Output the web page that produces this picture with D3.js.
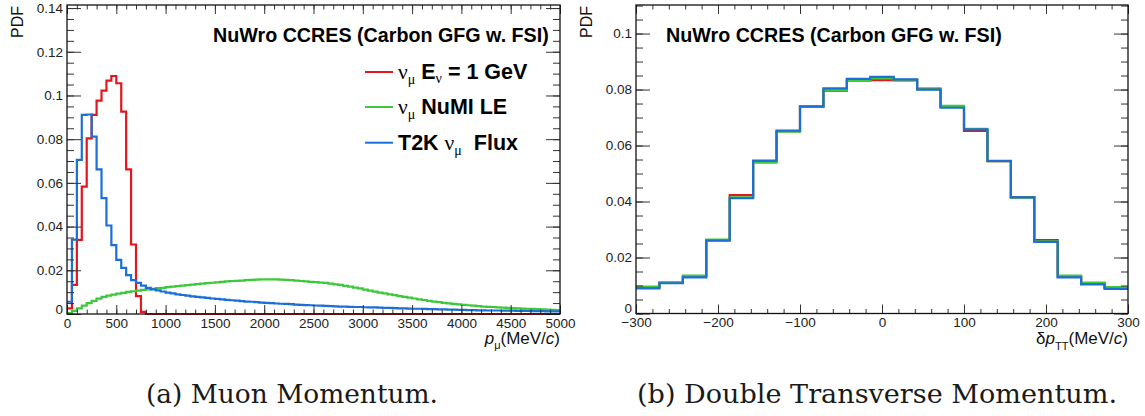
<!DOCTYPE html>
<html><head><meta charset="utf-8">
<script src="https://cdn.jsdelivr.net/npm/d3@7"></script>
<style>body{margin:0;background:#fff} svg{display:block}</style>
</head><body><svg id="c" width="1145" height="416"></svg>
<script>
// ---------- DATA ----------
// muon momentum histogram: 100 bins of 50 MeV/c from 0 to 5000
const pmuRed = [0.0026,0.0133,0.0339,0.0583,0.0804,0.0911,0.0976,0.1022,0.1068,0.1089,
  0.1056,0.0926,0.0662,0.0318,0.0082,0.0010,0,0,0,0, 0,0,0,0,0,0,0,0,0,0,
  0,0,0,0,0,0,0,0,0,0, 0,0,0,0,0,0,0,0,0,0, 0,0,0,0,0,0,0,0,0,0,
  0,0,0,0,0,0,0,0,0,0, 0,0,0,0,0,0,0,0,0,0, 0,0,0,0,0,0,0,0,0,0,
  0,0,0,0,0,0,0,0,0,0];
const pmuGreen = [0.0004,0.0014,0.0026,0.0038,0.0050,0.0060,0.0070,0.0078,0.0084,0.0089,
  0.0093,0.0097,0.0101,0.0104,0.0107,0.0110,0.0113,0.0115,0.0118,0.0120,
  0.0123,0.0125,0.0128,0.0130,0.0132,0.0134,0.0137,0.0139,0.0141,0.0143,
  0.0145,0.0147,0.0149,0.0151,0.0152,0.0153,0.0155,0.0156,0.0157,0.0158,
  0.0158,0.0158,0.0158,0.0157,0.0156,0.0155,0.0153,0.0151,0.0149,0.0147,
  0.0146,0.0144,0.0142,0.0139,0.0136,0.0133,0.0129,0.0125,0.0121,0.0117,
  0.0112,0.0107,0.0102,0.0098,0.0094,0.0090,0.0086,0.0082,0.0078,0.0075,
  0.0071,0.0067,0.0064,0.0060,0.0057,0.0054,0.0051,0.0049,0.0046,0.0044,
  0.0042,0.0040,0.0038,0.0036,0.0034,0.0033,0.0032,0.0030,0.0029,0.0028,
  0.0027,0.0026,0.0025,0.0024,0.0023,0.0022,0.0021,0.0020,0.0019,0.0018];
const pmuBlue = [0.0056,0.0340,0.0705,0.0911,0.0913,0.0812,0.0662,0.0530,0.0405,0.0315,
  0.0248,0.0211,0.0178,0.0155,0.0142,0.0130,0.0120,0.0113,0.0108,0.0103,
  0.0098,0.0094,0.0090,0.0087,0.0084,0.0081,0.0078,0.0076,0.0074,0.0071,
  0.0069,0.0067,0.0065,0.0063,0.0061,0.0059,0.0057,0.0056,0.0054,0.0052,
  0.0051,0.0050,0.0048,0.0047,0.0046,0.0045,0.0043,0.0042,0.0041,0.0040,
  0.0039,0.0038,0.0037,0.0036,0.0035,0.0034,0.0034,0.0033,0.0032,0.0032,
  0.0031,0.0030,0.0030,0.0029,0.0028,0.0028,0.0027,0.0026,0.0026,0.0025,
  0.0024,0.0024,0.0023,0.0022,0.0022,0.0021,0.0021,0.0020,0.0020,0.0019,
  0.0019,0.0018,0.0018,0.0017,0.0017,0.0016,0.0016,0.0016,0.0015,0.0015,
  0.0015,0.0014,0.0014,0.0014,0.0013,0.0013,0.0013,0.0012,0.0012,0.0012];

// double transverse momentum: 21 bins from -300 to 300
const dptRange = [-300, 300];
const dptRed   = [0.0093,0.0110,0.0133,0.0262,0.0423,0.0543,0.0651,0.0740,0.0796,0.0833,0.0834,0.0833,0.0803,0.0738,0.0652,0.0544,0.0416,0.0262,0.0131,0.0108,0.0092];
const dptGreen = [0.0096,0.0111,0.0135,0.0264,0.0415,0.0539,0.0650,0.0740,0.0799,0.0831,0.0840,0.0835,0.0801,0.0742,0.0660,0.0544,0.0414,0.0258,0.0135,0.0110,0.0094];
const dptBlue  = [0.0090,0.0108,0.0129,0.0260,0.0412,0.0546,0.0653,0.0739,0.0804,0.0838,0.0845,0.0836,0.0800,0.0735,0.0658,0.0545,0.0415,0.0256,0.0129,0.0104,0.0088];

// tick labels
const pmuTicks = [0,500,1000,1500,2000,2500,3000,3500,4000,4500,5000];
const pmuYTicks = [0,0.02,0.04,0.06,0.08,0.1,0.12,0.14];
const dptTicks = [-300,-200,-100,0,100,200,300];
const dptYTicks = [0,0.02,0.04,0.06,0.08,0.1];

const colors = {red:"#e3161d", green:"#3ec83b", blue:"#1b6fd6"};
const titleText = "NuWro CCRES (Carbon GFG w. FSI)";
const captions = ["(a) Muon Momentum.", "(b) Double Transverse Momentum."];

// ---------- DRAW ----------
const svg = d3.select("#c");
const SANS = "'Liberation Sans', Arial, Helvetica, sans-serif";
const GREEK = "'Liberation Serif', 'DejaVu Serif', serif";
const fmt = d => { const s = String(+(+d).toFixed(3)); return s.replace("-", "\u2212"); };

function panel(o) {
  const g = svg.append("g");
  const x = d3.scaleLinear().domain(o.xDom).range([o.X0, o.X1]);
  const y = d3.scaleLinear().domain(o.yDom).range([o.Y0, o.Y1]);
  const cid = "clip" + o.id;
  svg.append("clipPath").attr("id", cid).append("rect")
    .attr("x", o.X0).attr("y", o.Y1).attr("width", o.X1 - o.X0).attr("height", o.Y0 - o.Y1 + 1);
  const hg = g.append("g").attr("clip-path", `url(#${cid})`);
  o.series.forEach(s => {
    const n = s.vals.length, w = (o.xDom[1] - o.xDom[0]) / n;
    const pts = s.vals.map((v, i) => [o.xDom[0] + i * w, v]);
    pts.push([o.xDom[1], s.vals[n - 1]]);
    hg.append("path")
      .attr("d", d3.line().x(d => x(d[0])).y(d => y(d[1])).curve(d3.curveStepAfter)(pts))
      .attr("fill", "none").attr("stroke", s.color).attr("stroke-width", 2.2);
  });
  const styleAx = sel => {
    sel.select(".domain").remove();
    sel.selectAll("line").attr("stroke", "#333").attr("stroke-width", 1);
    sel.selectAll("text").attr("font-family", SANS).attr("font-size", 13.5).attr("fill", "#222");
  };
  const xMinor = d3.range(o.xDom[0], o.xDom[1] + 1e-9, o.xMinorStep);
  const yMinor = d3.range(0, o.yDom[1] + 1e-9, 0.005);
  g.append("g").attr("transform", `translate(0,${o.Y0})`)
    .call(d3.axisBottom(x).tickValues(o.xTicks).tickSize(-9).tickPadding(4).tickFormat(fmt)).call(styleAx);
  g.append("g").attr("transform", `translate(0,${o.Y0})`)
    .call(d3.axisBottom(x).tickValues(xMinor).tickSize(-4.5).tickFormat("")).call(styleAx);
  g.append("g").attr("transform", `translate(0,${o.Y1})`)
    .call(d3.axisTop(x).tickValues(o.xTicks).tickSize(-9).tickFormat("")).call(styleAx);
  g.append("g").attr("transform", `translate(0,${o.Y1})`)
    .call(d3.axisTop(x).tickValues(xMinor).tickSize(-4.5).tickFormat("")).call(styleAx);
  const yAx = g.append("g").attr("transform", `translate(${o.X0},0)`)
    .call(d3.axisLeft(y).tickValues(o.yTicks).tickSize(-14).tickPadding(4).tickFormat(fmt)).call(styleAx);
  // the "0" label sits just above the corner so it clears the x labels
  yAx.selectAll(".tick text").filter(d => d === 0).attr("dy", "-0.05em");
  g.append("g").attr("transform", `translate(${o.X0},0)`)
    .call(d3.axisLeft(y).tickValues(yMinor).tickSize(-7).tickFormat("")).call(styleAx);
  g.append("g").attr("transform", `translate(${o.X1},0)`)
    .call(d3.axisRight(y).tickValues(o.yTicks).tickSize(-14).tickFormat("")).call(styleAx);
  g.append("g").attr("transform", `translate(${o.X1},0)`)
    .call(d3.axisRight(y).tickValues(yMinor).tickSize(-7).tickFormat("")).call(styleAx);
  g.append("rect").attr("x", o.X0).attr("y", o.Y1).attr("width", o.X1 - o.X0).attr("height", o.Y0 - o.Y1)
    .attr("fill", "none").attr("stroke", "#111").attr("stroke-width", 1.3);
  g.append("text").attr("transform", `translate(${o.X0 - 44},${o.Y1 + 1}) rotate(-90)`)
    .attr("text-anchor", "end").attr("font-family", SANS).attr("font-size", 16).attr("fill", "#111").text("PDF");
  g.append("text").attr("x", o.titleX).attr("y", 41.5).attr("font-family", SANS).attr("font-weight", "bold")
    .attr("font-size", 19.7).attr("fill", "#000").text(titleText);
  const xt = g.append("text").attr("x", o.X1).attr("y", 344).attr("text-anchor", "end")
    .attr("font-family", SANS).attr("font-size", 17).attr("fill", "#111");
  o.xTitle(xt);
  return {g, x, y};
}

panel({id: "L", xDom: [0, 5000], yDom: [0, 0.1414], X0: 67, X1: 560, Y0: 314, Y1: 5,
  xTicks: pmuTicks, yTicks: pmuYTicks, xMinorStep: 100, titleX: 213,
  series: [{vals: pmuRed, color: colors.red}, {vals: pmuGreen, color: colors.green}, {vals: pmuBlue, color: colors.blue}],
  xTitle: t => {
    t.append("tspan").attr("font-style", "italic").text("p");
    t.append("tspan").attr("font-size", 11).attr("dy", 5).text("\u03bc");
    t.append("tspan").attr("dy", -5).text("(MeV/");
    t.append("tspan").attr("font-style", "italic").text("c");
    t.append("tspan").text(")");
  }});

panel({id: "R", xDom: dptRange, yDom: [0, 0.1102], X0: 636, X1: 1128, Y0: 313.5, Y1: 5,
  xTicks: dptTicks, yTicks: dptYTicks, xMinorStep: 20, titleX: 666,
  series: [{vals: dptRed, color: colors.red}, {vals: dptGreen, color: colors.green}, {vals: dptBlue, color: colors.blue}],
  xTitle: t => {
    t.append("tspan").text("\u03b4");
    t.append("tspan").attr("font-style", "italic").text("p");
    t.append("tspan").attr("font-size", 11).attr("dy", 6).text("TT");
    t.append("tspan").attr("dy", -6).text("(MeV/");
    t.append("tspan").attr("font-style", "italic").text("c");
    t.append("tspan").text(")");
  }});

// legend (left panel)
const FS = 21.5, SUB = 14;
const legRows = [
  {color: colors.red, y: 72, parts: [["\u03bd",0,"normal",FS,GREEK],["\u03bc",5,"normal",SUB,GREEK],[" E",-5,"bold",FS,SANS],["\u03bd",4,"normal",SUB,GREEK],[" = 1 GeV",-4,"bold",FS,SANS]]},
  {color: colors.green, y: 107, parts: [["\u03bd",0,"normal",FS,GREEK],["\u03bc",5,"normal",SUB,GREEK],[" NuMI LE",-5,"bold",FS,SANS]]},
  {color: colors.blue, y: 142.7, parts: [["T2K ",0,"bold",FS,SANS],["\u03bd",0,"normal",FS,GREEK],["\u03bc",5,"normal",SUB,GREEK],["  Flux",-5,"bold",FS,SANS]]}
];
const lg = svg.append("g");
legRows.forEach(r => {
  lg.append("line").attr("x1", 365).attr("x2", 393).attr("y1", r.y).attr("y2", r.y)
    .attr("stroke", r.color).attr("stroke-width", 2);
  const t = lg.append("text").attr("x", 398).attr("y", r.y + 7).attr("fill", "#000")
    .attr("xml:space", "preserve").style("white-space", "pre");
  r.parts.forEach(p => t.append("tspan").attr("dy", p[1]).attr("font-weight", p[2]).attr("font-size", p[3])
    .attr("font-family", p[4]).text(p[0]));
});

// captions
const capX = [292, 877], capW = [292, 480];
captions.forEach((c, i) => {
  svg.append("text").attr("x", capX[i]).attr("y", 403).attr("text-anchor", "middle")
    .attr("font-family", "'DejaVu Serif', serif").attr("font-size", 26).attr("fill", "#1a1a1a")
    .attr("textLength", capW[i]).attr("lengthAdjust", "spacingAndGlyphs").text(c);
});
</script></body></html>
